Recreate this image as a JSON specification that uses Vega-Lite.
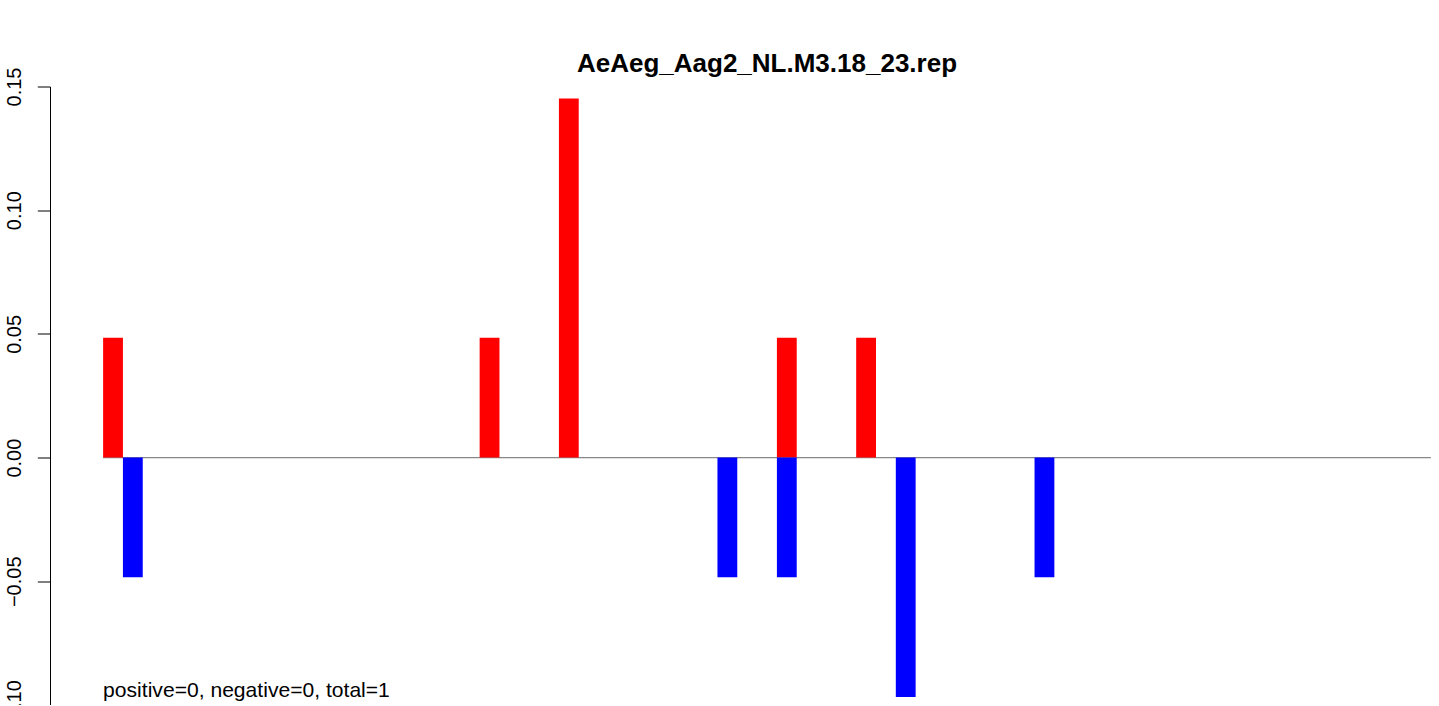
{
  "$schema": "https://vega.github.io/schema/vega-lite/v6.json",
  "autosize": {"type": "none"},
  "padding": {"left": 50, "top": 86.5, "right": 0, "bottom": 0},
  "width": 1434,
  "height": 618.5,
  "background": "white",
  "title": {
    "text": "AeAeg_Aag2_NL.M3.18_23.rep",
    "anchor": "middle",
    "font": "Liberation Sans",
    "fontSize": 26,
    "fontWeight": "bold",
    "color": "black",
    "baseline": "alphabetic",
    "offset": -31.4
  },
  "config": {
    "view": {"stroke": null},
    "axis": {"grid": false}
  },
  "layer": [
    {
      "data": {"values": [{}]},
      "mark": {"type": "rule", "color": "#888888", "strokeWidth": 1.2},
      "encoding": {
        "x": {"datum": 0.5, "type": "quantitative", "scale": {"domain": [-2.18, 70.18], "nice": false, "zero": false, "padding": 0}, "axis": null},
        "x2": {"datum": 67.5},
        "y": {"datum": 0, "type": "quantitative"}
      }
    },
    {
      "data": {
        "values": [
          {"pos": 1, "strand": "positive", "value": 0.0484},
          {"pos": 2, "strand": "negative", "value": -0.0484},
          {"pos": 20, "strand": "positive", "value": 0.0484},
          {"pos": 24, "strand": "positive", "value": 0.1452},
          {"pos": 32, "strand": "negative", "value": -0.0484},
          {"pos": 35, "strand": "positive", "value": 0.0484},
          {"pos": 35, "strand": "negative", "value": -0.0484},
          {"pos": 39, "strand": "positive", "value": 0.0484},
          {"pos": 41, "strand": "negative", "value": -0.0968},
          {"pos": 48, "strand": "negative", "value": -0.0484}
        ]
      },
      "mark": {"type": "bar", "size": 19.82},
      "encoding": {
        "x": {"field": "pos", "type": "quantitative", "axis": null},
        "y": {
          "field": "value",
          "type": "quantitative",
          "scale": {"domain": [-0.1, 0.15], "nice": false},
          "axis": {
            "title": null,
            "values": [-0.1, -0.05, 0, 0.05, 0.1, 0.15],
            "format": ".2f",
            "labelAngle": -90,
            "labelAlign": "center",
            "labelBaseline": "alphabetic",
            "labelFont": "Liberation Sans",
            "labelFontSize": 20,
            "labelColor": "black",
            "labelPadding": 16.5,
            "tickSize": 12.7,
            "tickColor": "black",
            "tickWidth": 1,
            "domainColor": "black",
            "domainWidth": 1,
            "labelOverlap": false,
            "labelFlush": false
          }
        },
        "color": {
          "field": "strand",
          "type": "nominal",
          "scale": {"domain": ["positive", "negative"], "range": ["#FF0000", "#0000FF"]},
          "legend": null
        }
      }
    },
    {
      "data": {"values": [{}]},
      "mark": {"type": "text", "align": "left", "baseline": "alphabetic", "font": "Liberation Sans", "fontSize": 21.1, "color": "black"},
      "encoding": {
        "x": {"datum": 0.5, "type": "quantitative"},
        "y": {"datum": -0.0968, "type": "quantitative"},
        "text": {"value": "positive=0, negative=0, total=1"}
      }
    }
  ]
}
